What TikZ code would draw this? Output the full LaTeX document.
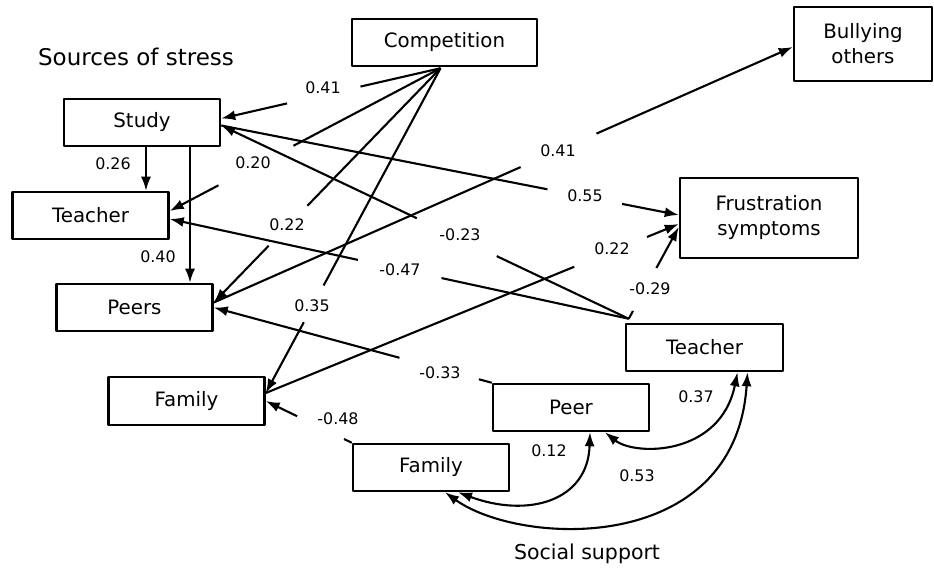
\documentclass[tikz,border=0pt]{standalone}
\usepackage{fontspec}
\setmainfont{DejaVu Sans}
\usetikzlibrary{arrows.meta,calc}
\newcommand{\gapline}[4]{\draw (#1)--($(#1)!#3!(#2)$); \draw[->] ($(#1)!#4!(#2)$)--(#2);}
\begin{document}
\begin{tikzpicture}[>={Latex[length=14pt,width=10pt]},line join=round,x=1pt,y=-1pt,line width=2.1pt,
	box/.style={draw,line width=2.5pt,minimum width=156pt,minimum height=47pt,inner sep=0pt,align=center,font=\fontsize{19.8}{25}\selectfont},
	num/.style={inner sep=0pt,font=\fontsize{15.9}{18}\selectfont}]
	\useasboundingbox (0,0) rectangle (934,569);
	\node[font=\fontsize{23}{28}\selectfont] (src) at (136,57) {Sources of stress};
	\node[font=\fontsize{20.5}{24}\selectfont] (sup) at (587,554) {Social support};
	\node[box,minimum width=185pt] (comp) at (444.5,42.5) {Competition};
	\node[box] (study) at (142,122.5) {Study};
	\node[box] (teachL) at (90.5,215.5) {Teacher};
	\node[box] (peersL) at (134.5,307.5) {Peers};
	\node[box,minimum height=48pt] (famL) at (186.5,401) {Family};
	\node[box,minimum width=138pt,minimum height=74pt] (bully) at (863,44) {Bullying\\others};
	\node[box,minimum width=178pt,minimum height=80pt] (frust) at (769,218) {Frustration\\symptoms};
	\node[box,minimum width=157pt] (teachR) at (704.5,347.5) {Teacher};
	\node[box] (peerR) at (571,407.5) {Peer};
	\node[box] (famR) at (431,467.5) {Family};
	\coordinate (cs) at ($(comp.south)+(-4,1)$);
	\coordinate (sEa) at ($(study.east)+(0,-4)$);
	\coordinate (sEb) at ($(study.east)+(0,3)$);
	\coordinate (tEa) at ($(teachL.east)+(0,-4.5)$);
	\coordinate (tEb) at ($(teachL.east)+(0,3.5)$);
	\coordinate (pEa) at ($(peersL.east)+(0,-5)$);
	\coordinate (fEa) at ($(famL.east)+(0,-8)$);
	\coordinate (bW) at ($(bully.west)+(0,3)$);
	\coordinate (frA) at ($(frust.west)+(0,-3)$);
	\coordinate (frB) at ($(frust.west)+(0,6)$);
	\coordinate (frC) at ($(frust.west)+(0,9)$);
	\coordinate (tR) at ($(teachR.north west)+(4,-4)$);
	\coordinate (sS1) at ($(study.south)+(4,0)$);
	\coordinate (sS2) at ($(study.south)+(48,0)$);
	\gapline{cs}{sEa}{.365}{.70}
	\gapline{cs}{tEa}{.543}{.82}
	\gapline{cs}{pEa}{.587}{.758}
	\gapline{cs}{fEa}{.669}{.782}
	\draw[->] (sS1)--(sS1 |- teachL.north);
	\draw[->] (sS2)--(sS2 |- peersL.north);
	\gapline{sEb}{frA}{.713}{.876}
	\gapline{tR}{sEb}{.324}{.52}
	\gapline{tR}{tEb}{.408}{.59}
	\gapline{tR}{frC}{.085}{.553}
	\gapline{peerR.north west}{peersL.east}{.046}{.332}
	\gapline{famR.north west}{famL.east}{.09}{.636}
	\gapline{pEa}{bW}{.53}{.661}
	\gapline{fEa}{frB}{.747}{.923}
	\draw[<->] ($(peerR.south)+(19,0)$) .. controls +(-2,69) and +(70,26) .. ($(famR.south)+(27,0)$);
	\draw[<->] ($(peerR.south)+(34,0)$) .. controls +(30,24) and +(-17,84) .. ($(teachR.south)+(33,0)$);
	\draw[<->] ($(famR.south)+(14,0)$) .. controls +(75,54) and +(-12,184) .. ($(teachR.south)+(43,0)$);
	\node[num] (w1) at (323,88) {0.41};
	\node[num] (w2) at (253,163) {0.20};
	\node[num] (w3) at (287,225) {0.22};
	\node[num] (w4) at (312,306) {0.35};
	\node[num] (w5) at (113,164) {0.26};
	\node[num] (w6) at (158,257) {0.40};
	\node[num] (w7) at (585,196) {0.55};
	\node[num] (w8) at (460,235) {-0.23};
	\node[num] (w9) at (400,270) {-0.47};
	\node[num] (w10) at (650,289) {-0.29};
	\node[num] (w11) at (440,373) {-0.33};
	\node[num] (w12) at (338,419) {-0.48};
	\node[num] (w13) at (558,151) {0.41};
	\node[num] (w14) at (612,249) {0.22};
	\node[num] (w15) at (549,451) {0.12};
	\node[num] (w16) at (696,397) {0.37};
	\node[num] (w17) at (637,476) {0.53};
\end{tikzpicture}
\end{document}
